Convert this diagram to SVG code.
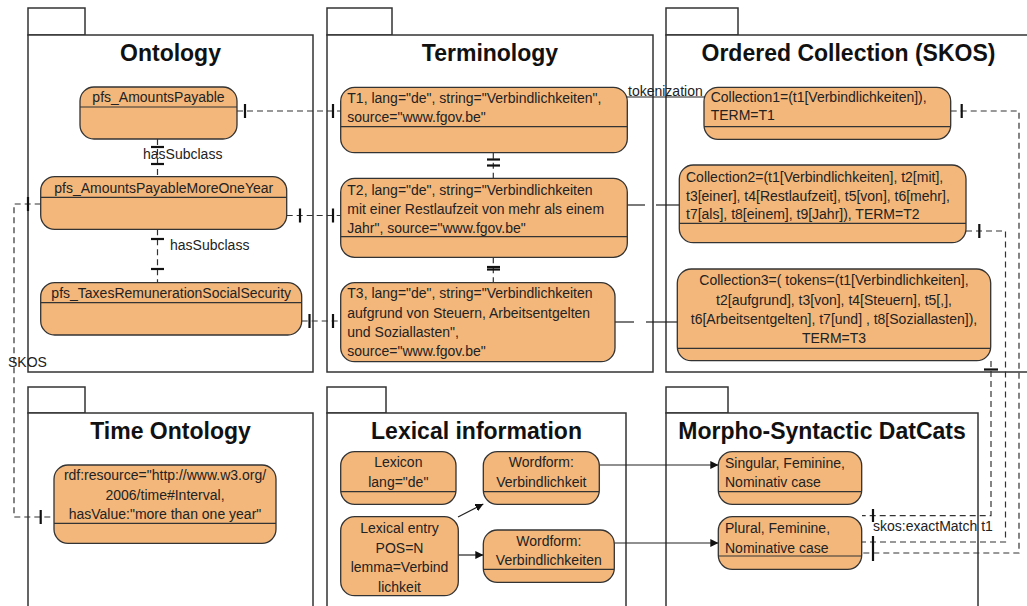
<svg xmlns="http://www.w3.org/2000/svg" width="1027" height="606" viewBox="0 0 1027 606">
<style>
.pkg{fill:#fff;stroke:#333;stroke-width:1.5}
.title{font-family:"Liberation Sans",Arial,sans-serif;font-weight:bold;font-size:23px;text-anchor:middle;fill:#111}
.node{fill:#F3B77B;stroke:#333;stroke-width:1.3}
.dv{stroke:#333;stroke-width:1.2}
.t{font-family:"Liberation Sans",Arial,sans-serif;font-size:14px;fill:#222}
.c{text-anchor:middle}
.dash{fill:none;stroke:#333;stroke-width:1.2;stroke-dasharray:6 4}
.solid{fill:none;stroke:#222;stroke-width:1.2}
.bar{stroke:#111;stroke-width:2.2}
</style>
<defs>
<marker id="arr" viewBox="0 0 10 10" refX="10" refY="5" markerWidth="8" markerHeight="8" markerUnits="userSpaceOnUse" orient="auto">
<path d="M0,0 L10,5 L0,10 Z" fill="#111"/>
</marker>
</defs>

<!-- packages -->
<g id="pkg-ontology">
<rect class="pkg" x="28" y="8" width="57" height="27"/>
<rect class="pkg" x="28" y="35" width="285" height="337"/>
<text class="title" x="170.5" y="61">Ontology</text>
</g>
<g id="pkg-terminology">
<rect class="pkg" x="327" y="8" width="65" height="27"/>
<rect class="pkg" x="327" y="35" width="326" height="337"/>
<text class="title" x="490" y="61">Terminology</text>
</g>
<g id="pkg-ordered">
<rect class="pkg" x="666" y="8" width="72" height="27"/>
<rect class="pkg" x="666" y="35" width="370" height="337"/>
<text class="title" x="848.5" y="61">Ordered Collection (SKOS)</text>
</g>
<g id="pkg-time">
<rect class="pkg" x="28" y="387" width="57" height="26"/>
<rect class="pkg" x="28" y="413" width="285" height="210"/>
<text class="title" x="170.5" y="439">Time Ontology</text>
</g>
<g id="pkg-lexical">
<rect class="pkg" x="327" y="387" width="59" height="26"/>
<rect class="pkg" x="327" y="413" width="299" height="210"/>
<text class="title" x="476.5" y="439">Lexical information</text>
</g>
<g id="pkg-morpho">
<rect class="pkg" x="666" y="387" width="62" height="26"/>
<rect class="pkg" x="666" y="413" width="312" height="210"/>
<text class="title" x="822" y="439">Morpho-Syntactic DatCats</text>
</g>

<!-- connectors -->
<g id="connectors">
<!-- ontology hasSubclass -->
<line class="dash" x1="157.5" y1="139" x2="157.5" y2="176.7"/>
<line class="bar" x1="151" y1="147" x2="164" y2="147"/>
<line class="bar" x1="151" y1="164" x2="164" y2="164"/>
<line class="dash" x1="157.5" y1="229.3" x2="157.5" y2="282.7"/>
<line class="bar" x1="151" y1="239" x2="164" y2="239"/>
<line class="bar" x1="151" y1="269" x2="164" y2="269"/>
<!-- ontology to terminology -->
<line class="dash" x1="237" y1="111" x2="340.7" y2="111"/>
<line class="bar" x1="245" y1="104" x2="245" y2="118"/>
<line class="bar" x1="333" y1="104" x2="333" y2="118"/>
<line class="dash" x1="286.7" y1="215.5" x2="340.7" y2="215.5"/>
<line class="bar" x1="300" y1="208.5" x2="300" y2="222.5"/>
<line class="bar" x1="333" y1="208.5" x2="333" y2="222.5"/>
<line class="dash" x1="301.7" y1="321" x2="340.7" y2="321"/>
<line class="bar" x1="309.5" y1="314" x2="309.5" y2="328"/>
<line class="bar" x1="333" y1="314" x2="333" y2="328"/>
<!-- SKOS to time ontology -->
<path class="dash" d="M40.7,204 H14 V517 H54"/>
<line class="bar" x1="28" y1="197" x2="28" y2="211"/>
<line class="bar" x1="40.7" y1="510" x2="40.7" y2="524"/>
<!-- terminology internal -->
<line class="dash" x1="493.3" y1="152.7" x2="493.3" y2="178.3"/>
<line class="bar" x1="487" y1="159.5" x2="500" y2="159.5"/>
<line class="bar" x1="487" y1="165.5" x2="500" y2="165.5"/>
<line class="dash" x1="493.3" y1="257.3" x2="493.3" y2="282.7"/>
<line class="bar" x1="487" y1="267" x2="500" y2="267"/>
<line class="bar" x1="487" y1="269.5" x2="500" y2="269.5"/>
<!-- terminology to collections -->
<line class="solid" x1="622" y1="97" x2="706" y2="97"/>
<line class="solid" x1="627" y1="205" x2="645" y2="205"/>
<line class="solid" x1="656" y1="205" x2="680" y2="205"/>
<line class="solid" x1="615" y1="322" x2="634" y2="322"/>
<line class="solid" x1="646" y1="322" x2="678" y2="322"/>
<!-- collections to morpho -->
<path class="dash" d="M950.7,111 H1019 V553 H862"/>
<line class="bar" x1="961.7" y1="104" x2="961.7" y2="118"/>
<path class="dash" d="M966,231 H1005.5 V542 H862"/>
<line class="bar" x1="979.3" y1="224" x2="979.3" y2="238"/>
<path class="dash" d="M991,361 V515.7 H862"/>
<line class="bar" x1="984" y1="369.5" x2="998" y2="369.5"/>
<line class="bar" x1="873" y1="509" x2="873" y2="522"/>
<line class="bar" x1="873" y1="536" x2="873" y2="561"/>
<!-- lexical arrows -->
<line class="solid" x1="599.3" y1="465" x2="718.3" y2="465" marker-end="url(#arr)"/>
<line class="solid" x1="614.3" y1="543" x2="718.3" y2="543" marker-end="url(#arr)"/>
<line class="solid" x1="458" y1="517" x2="483.3" y2="504" marker-end="url(#arr)"/>
<line class="solid" x1="458.3" y1="555" x2="483.3" y2="555" marker-end="url(#arr)"/>
</g>

<!-- ontology nodes -->
<g id="n-amountsPayable">
<rect class="node" x="80" y="87" width="157" height="52" rx="14"/>
<line class="dv" x1="80" y1="107" x2="237" y2="107"/>
<text class="t c" x="158.5" y="102">pfs_AmountsPayable</text>
</g>
<g id="n-moreOneYear">
<rect class="node" x="40.7" y="176.7" width="246" height="52.6" rx="14"/>
<line class="dv" x1="40.7" y1="197.3" x2="286.7" y2="197.3"/>
<text class="t c" x="163.7" y="193">pfs_AmountsPayableMoreOneYear</text>
</g>
<g id="n-taxes">
<rect class="node" x="40.7" y="282.7" width="261" height="52.3" rx="14"/>
<line class="dv" x1="40.7" y1="302.7" x2="301.7" y2="302.7"/>
<text class="t c" x="171.2" y="298">pfs_TaxesRemunerationSocialSecurity</text>
</g>

<!-- terminology nodes -->
<g id="n-T1">
<rect class="node" x="340.7" y="87.3" width="286.6" height="65.4" rx="14"/>
<line class="dv" x1="340.7" y1="126.7" x2="627.3" y2="126.7"/>
<text class="t" x="347.3" y="102.7">T1, lang="de", string="Verbindlichkeiten",</text>
<text class="t" x="347.3" y="121.7">source="www.fgov.be"</text>
</g>
<g id="n-T2">
<rect class="node" x="340.7" y="178.3" width="286.6" height="79" rx="14"/>
<line class="dv" x1="340.7" y1="236.7" x2="627.3" y2="236.7"/>
<text class="t" x="347.3" y="195">T2, lang="de", string="Verbindlichkeiten</text>
<text class="t" x="347.3" y="214.3">mit einer Restlaufzeit von mehr als einem</text>
<text class="t" x="347.3" y="233.3">Jahr", source="www.fgov.be"</text>
</g>
<g id="n-T3">
<rect class="node" x="340.7" y="282.7" width="274.3" height="79" rx="14"/>
<text class="t" x="347.3" y="298.3">T3, lang="de", string="Verbindlichkeiten</text>
<text class="t" x="347.3" y="317.5">aufgrund von Steuern, Arbeitsentgelten</text>
<text class="t" x="347.3" y="336.7">und Soziallasten",</text>
<text class="t" x="347.3" y="356">source="www.fgov.be"</text>
</g>

<!-- collection nodes -->
<g id="n-C1">
<rect class="node" x="704" y="87.3" width="246.7" height="52" rx="14"/>
<line class="dv" x1="704" y1="126.7" x2="950.7" y2="126.7"/>
<text class="t" x="710.7" y="101.7">Collection1=(t1[Verbindlichkeiten]),</text>
<text class="t" x="710.7" y="120.3">TERM=T1</text>
</g>
<g id="n-C2">
<rect class="node" x="679.3" y="165" width="286.7" height="77.7" rx="14"/>
<line class="dv" x1="679.3" y1="223.3" x2="966" y2="223.3"/>
<text class="t" x="686" y="181.7">Collection2=(t1[Verbindlichkeiten], t2[mit],</text>
<text class="t" x="686" y="200.7">t3[einer], t4[Restlaufzeit], t5[von], t6[mehr],</text>
<text class="t" x="686" y="219.3">t7[als], t8[einem], t9[Jahr]), TERM=T2</text>
</g>
<g id="n-C3">
<rect class="node" x="677.3" y="269" width="313.4" height="91.7" rx="14"/>
<line class="dv" x1="677.3" y1="348.3" x2="990.7" y2="348.3"/>
<text class="t c" x="834" y="285">Collection3=( tokens=(t1[Verbindlichkeiten],</text>
<text class="t c" x="834" y="304.5">t2[aufgrund], t3[von], t4[Steuern], t5[,],</text>
<text class="t c" x="834" y="324">t6[Arbeitsentgelten], t7[und] , t8[Soziallasten]),</text>
<text class="t c" x="834" y="343">TERM=T3</text>
</g>

<!-- time ontology node -->
<g id="n-time">
<rect class="node" x="54" y="465" width="222" height="78.3" rx="14"/>
<line class="dv" x1="54" y1="523.3" x2="276" y2="523.3"/>
<text class="t c" x="165" y="480">rdf:resource="http://www.w3.org/</text>
<text class="t c" x="165" y="500">2006/time#Interval,</text>
<text class="t c" x="165" y="519">hasValue:"more than one year"</text>
</g>

<!-- lexical nodes -->
<g id="n-lexicon">
<rect class="node" x="340.7" y="451.7" width="115.3" height="52.6" rx="14"/>
<line class="dv" x1="340.7" y1="491.7" x2="456" y2="491.7"/>
<text class="t c" x="398.3" y="466.7">Lexicon</text>
<text class="t c" x="398.3" y="487.3">lang="de"</text>
</g>
<g id="n-wf1">
<rect class="node" x="483.3" y="451.7" width="116" height="52.6" rx="14"/>
<line class="dv" x1="483.3" y1="491.7" x2="599.3" y2="491.7"/>
<text class="t c" x="541.3" y="466.7">Wordform:</text>
<text class="t c" x="541.3" y="487.3">Verbindlichkeit</text>
</g>
<g id="n-entry">
<rect class="node" x="340.7" y="516.7" width="117.6" height="79" rx="14"/>
<text class="t c" x="399.5" y="532.7">Lexical entry</text>
<text class="t c" x="399.5" y="552.5">POS=N</text>
<text class="t c" x="399.5" y="572">lemma=Verbind</text>
<text class="t c" x="399.5" y="591.5">lichkeit</text>
</g>
<g id="n-wf2">
<rect class="node" x="483.3" y="530" width="131" height="52.3" rx="14"/>
<line class="dv" x1="483.3" y1="569.3" x2="614.3" y2="569.3"/>
<text class="t c" x="548.8" y="546">Wordform:</text>
<text class="t c" x="548.8" y="565">Verbindlichkeiten</text>
</g>

<!-- morpho nodes -->
<g id="n-singular">
<rect class="node" x="718.3" y="451.7" width="143.4" height="52.6" rx="14"/>
<line class="dv" x1="718.3" y1="491.7" x2="861.7" y2="491.7"/>
<text class="t" x="725" y="468.3">Singular, Feminine,</text>
<text class="t" x="725" y="487.3">Nominativ case</text>
</g>
<g id="n-plural">
<rect class="node" x="718.3" y="516.7" width="143.4" height="52.6" rx="14"/>
<line class="dv" x1="718.3" y1="556" x2="861.7" y2="556"/>
<text class="t" x="725" y="533.3">Plural, Feminine,</text>
<text class="t" x="725" y="552.7">Nominative case</text>
</g>

<!-- connector labels -->
<g id="labels">
<text class="t" x="143" y="159">hasSubclass</text>
<text class="t" x="170" y="249.5">hasSubclass</text>
<text class="t" x="628" y="96">tokenization</text>
<text class="t" x="8" y="367">SKOS</text>
<text class="t" x="873" y="531">skos:exactMatch t1</text>
</g>
</svg>
